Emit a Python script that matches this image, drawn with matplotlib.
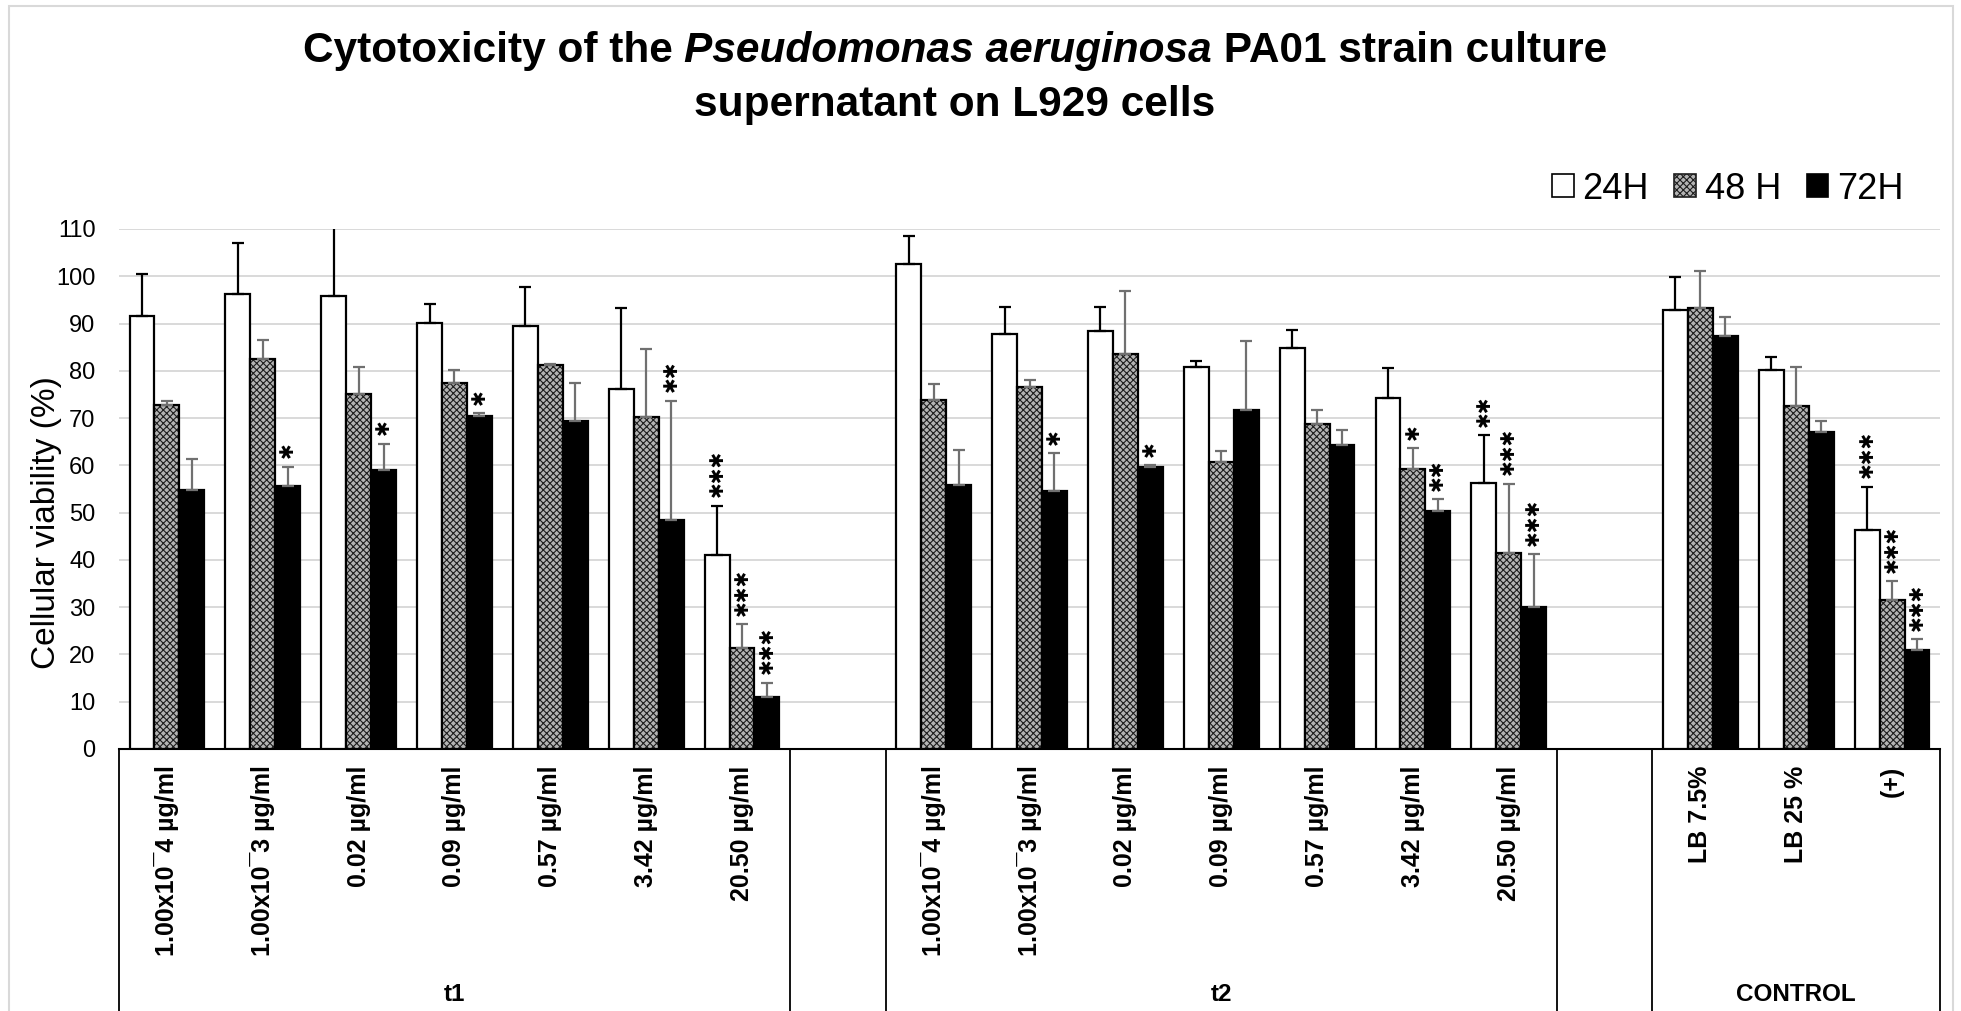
import numpy as np
import matplotlib
matplotlib.use('Agg')
import matplotlib.pyplot as plt
import matplotlib.patches as mpatches
import matplotlib.transforms as mtransforms

plt.rcParams['font.family'] = ['Liberation Sans', 'DejaVu Sans']
plt.rcParams['hatch.linewidth'] = 0.8

# ---- data ----
concs = ['1.00x10\u00af4 \u00b5g/ml', '1.00x10\u00af3 \u00b5g/ml', '0.02 \u00b5g/ml', '0.09 \u00b5g/ml',
         '0.57 \u00b5g/ml', '3.42 \u00b5g/ml', '20.50 \u00b5g/ml']
ctrl_names = ['LB 7.5%', 'LB 25 %', '(+)']
groups = ['t1', 't2', 'CONTROL']
series = ['24H', '48 H', '72H']

t1_24 = [91.6, 96.2, 95.9, 90.1, 89.5, 76.2, 41.1]
t1_24_err = [8.8, 10.8, 15.0, 4.0, 8.2, 17.1, 10.4]
t1_48 = [72.8, 82.6, 75.0, 77.5, 81.3, 70.3, 21.4]
t1_48_err = [0.8, 3.9, 5.9, 2.6, 0.2, 14.3, 5.0]
t1_72 = [54.7, 55.6, 59.1, 70.5, 69.3, 48.5, 11.0]
t1_72_err = [6.6, 4.1, 5.5, 0.6, 8.2, 25.2, 3.0]

t2_24 = [102.6, 87.7, 88.4, 80.9, 84.9, 74.2, 56.2]
t2_24_err = [5.9, 5.8, 5.1, 1.1, 3.7, 6.3, 10.2]
t2_48 = [73.8, 76.6, 83.5, 60.8, 68.7, 59.3, 41.5]
t2_48_err = [3.5, 1.4, 13.3, 2.2, 3.0, 4.3, 14.6]
t2_72 = [55.9, 54.5, 59.7, 71.7, 64.3, 50.3, 30.1]
t2_72_err = [7.3, 8.1, 0.3, 14.5, 3.2, 2.6, 11.1]

ctrl_24 = [92.8, 80.2, 46.4]
ctrl_24_err = [7.1, 2.7, 9.1]
ctrl_48 = [93.3, 72.6, 31.6]
ctrl_48_err = [7.8, 8.3, 3.9]
ctrl_72 = [87.4, 67.0, 20.9]
ctrl_72_err = [3.9, 2.3, 2.3]

# significance marks: (group, category, series, number of stars)
stars = [('t1', 1, 2, 1), ('t1', 2, 2, 1), ('t1', 3, 2, 1), ('t1', 5, 2, 2),
         ('t1', 6, 0, 3), ('t1', 6, 1, 3), ('t1', 6, 2, 3),
         ('t2', 1, 2, 1), ('t2', 2, 2, 1), ('t2', 5, 1, 1), ('t2', 5, 2, 2),
         ('t2', 6, 0, 2), ('t2', 6, 1, 3), ('t2', 6, 2, 3),
         ('CONTROL', 2, 0, 3), ('CONTROL', 2, 1, 3), ('CONTROL', 2, 2, 3)]

# ---- layout of the category axis: t1, empty slot, t2, empty slot, control ----
nan = [np.nan]
vals = [t1_24 + nan + t2_24 + nan + ctrl_24,
        t1_48 + nan + t2_48 + nan + ctrl_48,
        t1_72 + nan + t2_72 + nan + ctrl_72]
errs = [t1_24_err + nan + t2_24_err + nan + ctrl_24_err,
        t1_48_err + nan + t2_48_err + nan + ctrl_48_err,
        t1_72_err + nan + t2_72_err + nan + ctrl_72_err]
labels = concs + [''] + concs + [''] + ctrl_names
start = {'t1': 0, 't2': len(concs) + 1, 'CONTROL': 2 * len(concs) + 2}
x = np.arange(len(labels))

fig = plt.figure(figsize=(19.61, 10.11), dpi=100)
ax = fig.add_axes([0.0607, 0.2592, 0.9286, 0.5143])

w = 0.26
offs = [-w, 0, w]
gray_fc = '#b4b4b4'
for i in range(3):
    v = np.array(vals[i], dtype=float)
    e = np.array(errs[i], dtype=float)
    xs = x + offs[i]
    if i == 0:
        ax.bar(xs, v, w, color='white', edgecolor='black', linewidth=1.6, zorder=3)
        ecol = 'black'
    elif i == 1:
        ax.bar(xs, v, w, color=gray_fc, edgecolor='#1e1e1e', hatch='xxxxx', linewidth=0, zorder=3)
        ax.bar(xs, v, w, fill=False, edgecolor='black', linewidth=1.6, zorder=3)
        ecol = '#707070'
    else:
        ax.bar(xs, v, w, color='black', edgecolor='black', linewidth=1.6, zorder=3)
        ecol = '#707070'
    ax.errorbar(xs, v, yerr=[np.zeros_like(e), e], fmt='none', ecolor=ecol,
                elinewidth=1.6, capsize=4.5, capthick=1.6, zorder=4)

for g, c, s, n in stars:
    k = start[g] + c
    top = vals[s][k] + errs[s][k]
    ax.annotate('\u2731' * n, (x[k] + offs[s], top), xytext=(0, 6), textcoords='offset points',
                rotation=90, ha='center', va='bottom', fontsize=13.5, family='DejaVu Sans')

ax.set_xlim(-0.5, len(labels) - 0.5)
ax.set_ylim(0, 110)
ax.set_yticks(np.arange(0, 111, 10))
ax.yaxis.grid(True, color='#d9d9d9', linewidth=1.4, zorder=0)
ax.set_axisbelow(True)
for sp in ['top', 'right', 'left']:
    ax.spines[sp].set_visible(False)
ax.spines['bottom'].set_linewidth(1.5)
ax.tick_params(axis='y', length=0, pad=17, labelsize=17)
ax.set_ylabel('Cellular viability (%)', fontsize=24)
ax.yaxis.set_label_coords(-0.0313, 0.435)

ax.set_xticks(x)
ax.set_xticklabels(labels, rotation=90, fontsize=18, fontweight='bold', va='top')
ax.tick_params(axis='x', length=0, pad=12)

# group separators and group labels under the axis
tr = mtransforms.blended_transform_factory(ax.transData, fig.transFigure)
y0 = ax.get_position().y0
bounds = [-0.5, len(concs) - 0.5, len(concs) + 0.5, 2 * len(concs) + 0.5,
          2 * len(concs) + 1.5, len(labels) - 0.5]
for b in bounds:
    ax.plot([b, b], [y0, 0], color='black', linewidth=1.3, transform=tr, clip_on=False)
centers = [(len(concs) - 1) / 2, start['t2'] + (len(concs) - 1) / 2, start['CONTROL'] + 1]
for g, cx in zip(groups, centers):
    fig.text(cx, 0.0168, g, transform=tr, ha='center', va='center',
             fontsize=17.5, fontweight='bold')

# legend
handles = [mpatches.Patch(facecolor='white', edgecolor='black', linewidth=1.2),
           mpatches.Patch(facecolor=gray_fc, edgecolor='#1e1e1e', hatch='xxxxx', linewidth=1.2),
           mpatches.Patch(facecolor='black', edgecolor='black', linewidth=1.2)]
fig.legend(handles, series, loc='center right', bbox_to_anchor=(1922 / 1961, 0.813),
           ncol=3, frameon=False, fontsize=26, handlelength=0.6, handleheight=0.6,
           handletextpad=0.25, columnspacing=0.7, borderpad=0)

# title with italic species name
renderer = fig.canvas.get_renderer()

def title_line(parts, ybase):
    txts = [fig.text(0, ybase, s, fontsize=30.5, fontweight='bold', style=st,
                     va='baseline') for s, st in parts]
    widths = [t.get_window_extent(renderer).width for t in txts]
    xpos = 955 - sum(widths) / 2
    for t, wd in zip(txts, widths):
        t.set_x(xpos / 1961)
        xpos += wd

title_line([('Cytotoxicity of the ', 'normal'), ('Pseudomonas aeruginosa', 'italic'),
            (' PA01 strain culture', 'normal')], 1 - 62 / 1011)
title_line([('supernatant on L929 cells', 'normal')], 1 - 116 / 1011)

# chart area border
fig.add_artist(mpatches.Rectangle((9 / 1961, -0.05), 1944 / 1961, 1.05 - 6 / 1011,
                                  transform=fig.transFigure, fill=False,
                                  edgecolor='#d9d9d9', linewidth=1.5))

fig.savefig('out.png', dpi=100)
